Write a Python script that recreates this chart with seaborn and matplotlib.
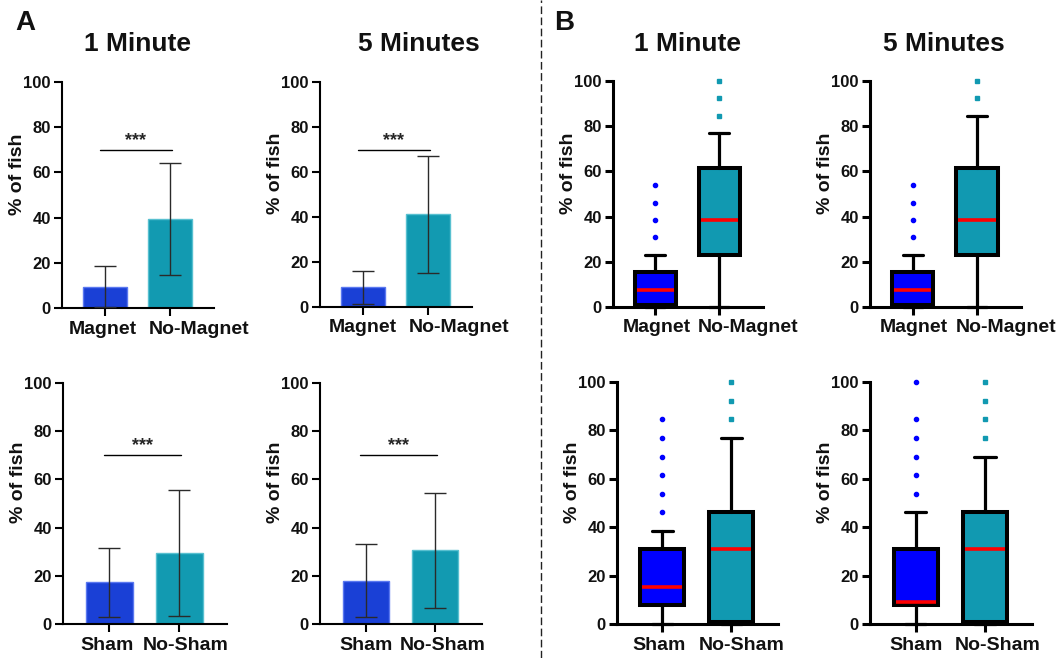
import numpy as np
import pandas as pd
import seaborn as sns
import matplotlib.pyplot as plt
from matplotlib.lines import Line2D
from matplotlib.transforms import ScaledTranslation

sns.set_style("ticks")
plt.rcParams['font.family'] = ['Liberation Sans', 'DejaVu Sans']
plt.rcParams['font.weight'] = 'bold'
plt.rcParams['axes.labelweight'] = 'bold'

# ---------------- data ----------------
magnet_labels = ["Magnet", "No-Magnet"]
sham_labels = ["Sham", "No-Sham"]
panel_titles = ["1 Minute", "5 Minutes"]

# Panel A: mean and SD (% of fish)
mean_mag_1 = [9.5, 39.5]
sd_mag_1 = [9.0, 24.8]
mean_mag_5 = [8.7, 41.3]
sd_mag_5 = [7.2, 26.0]
mean_sham_1 = [17.3, 29.5]
sd_sham_1 = [14.3, 26.3]
mean_sham_5 = [18.0, 30.5]
sd_sham_5 = [15.0, 24.0]
sig_level = 70
sig_text = "***"

# Panel B: box stats [whislo, q1, median, q3, whishi] and outliers
box_mag1_a = [0, 0.8, 7.7, 15.4, 23.1]
out_mag1_a = [30.8, 38.5, 46.2, 53.8]
box_mag1_b = [0, 23.1, 38.5, 61.5, 76.9]
out_mag1_b = [84.6, 92.3, 100]
box_mag5_a = [0, 0.8, 7.7, 15.4, 23.1]
out_mag5_a = [30.8, 38.5, 46.2, 53.8]
box_mag5_b = [0, 23.1, 38.5, 61.5, 84.6]
out_mag5_b = [92.3, 100]
box_sham1_a = [0, 7.7, 15.4, 30.8, 38.5]
out_sham1_a = [46.2, 53.8, 61.5, 69.2, 76.9, 84.6]
box_sham1_b = [0, 0.8, 30.8, 46.2, 76.9]
out_sham1_b = [84.6, 92.3, 100]
box_sham5_a = [0, 7.7, 9.0, 30.8, 46.2]
out_sham5_a = [53.8, 61.5, 69.2, 76.9, 84.6, 100]
box_sham5_b = [0, 0.8, 30.8, 46.2, 69.2]
out_sham5_b = [76.9, 84.6, 92.3, 100]

bar_colors = ["#1A40D6", "#129AB1"]
bar_edges = ["#5A78F0", "#58C0D0"]
box_colors = ["#0000FF", "#1199B1"]

W, H = 1063, 658
fig = plt.figure(figsize=(W / 100, H / 100), dpi=100)


def add_ax(l, r, t, b):
    ax = fig.add_axes([l / W, 1 - b / H, (r - l) / W, (b - t) / H])
    ax._px = (r - l, b - t)
    return ax


XLIM = (-0.66, 1.68)


def style_axis(ax, spine_w, tick_fs, xtick_fs, label_dx):
    sns.despine(ax=ax)
    ax.set_ylim(0, 100)
    ax.set_xlim(*XLIM)
    ax.set_yticks([0, 20, 40, 60, 80, 100])
    for s in ["left", "bottom"]:
        ax.spines[s].set_linewidth(spine_w)
        ax.spines[s].set_color("black")
    ax.tick_params(axis="both", length=6, width=spine_w, color="black", pad=2)
    ax.tick_params(axis="y", labelsize=tick_fs)
    ax.tick_params(axis="x", labelsize=xtick_fs, pad=3)
    for lab in ax.get_yticklabels() + ax.get_xticklabels():
        lab.set_fontweight("bold")
        lab.set_color("#111111")
    # shift x tick labels as in the reference
    for lab, dx in zip(ax.get_xticklabels(), label_dx):
        lab.set_transform(lab.get_transform() + ScaledTranslation(dx / 100, 0, fig.dpi_scale_trans))
    ax.set_ylabel("% of fish", fontsize=14, fontweight="bold", color="#111111")
    wpx, hpx = ax._px
    ax.yaxis.set_label_coords(-36 / wpx, 0.5 + 21 / hpx)
    ax.set_xlabel("")
    ax.set_facecolor("none")


def bar_panel(ax, labels, means, sds, label_dx):
    df = pd.DataFrame({"group": labels, "value": means})
    sns.barplot(data=df, x="group", y="value", hue="group", palette=bar_colors,
                saturation=1, errorbar=None, width=0.67, legend=False, ax=ax,
                linewidth=1, zorder=2)
    for p, ec in zip(ax.patches, bar_edges):
        p.set_edgecolor(ec)
    ax.errorbar(x=np.arange(len(means)), y=means, yerr=sds, fmt="none",
                ecolor="#2a2a2a", elinewidth=1.0, capsize=8, capthick=1.0,
                zorder=3, clip_on=False)
    ax.plot([-0.08, 1.03], [sig_level, sig_level], color="black", lw=1.0)
    ax.text(0.47, sig_level + 0.3, sig_text, ha="center", va="bottom",
            fontsize=13, fontweight="bold")
    style_axis(ax, 1.5, 12, 14, label_dx)


def box_panel(ax, labels, boxes, outs, label_dx):
    markers = ["o", "s"]
    for i, (st, fl) in enumerate(zip(boxes, outs)):
        stats = [dict(whislo=st[0], q1=st[1], med=st[2], q3=st[3], whishi=st[4],
                      fliers=fl, label=labels[i])]
        art = ax.bxp(stats, positions=[i], widths=0.64, capwidths=0.31,
                     patch_artist=True, showfliers=True,
                     boxprops=dict(facecolor=box_colors[i], edgecolor="black", linewidth=2.9),
                     whiskerprops=dict(color="black", linewidth=2.3),
                     capprops=dict(color="black", linewidth=2.3),
                     medianprops=dict(color="#FF0000", linewidth=2.6, solid_capstyle="butt"),
                     flierprops=dict(marker=markers[i], markerfacecolor=box_colors[i],
                                     markeredgecolor=box_colors[i], markersize=3.0,
                                     linestyle="none"))
        for m in art["medians"]:
            m.set_xdata([i - 0.29, i + 0.29])
        for k in art:
            for a in art[k]:
                a.set_clip_on(False)
    ax.set_xticks([0, 1])
    ax.set_xticklabels(labels)
    style_axis(ax, 2.2, 12, 14, label_dx)


# Panel A
ax = add_ax(62, 214, 82, 308)
bar_panel(ax, magnet_labels, mean_mag_1, sd_mag_1, (-2, 29))
ax = add_ax(320, 472, 82, 307)
bar_panel(ax, magnet_labels, mean_mag_5, sd_mag_5, (0, 31))
ax = add_ax(63, 227, 383, 624)
bar_panel(ax, sham_labels, mean_sham_1, sd_sham_1, (-2, 6))
ax = add_ax(320, 482, 383, 624)
bar_panel(ax, sham_labels, mean_sham_5, sd_sham_5, (0, 8))

# Panel B
ax = add_ax(613, 763, 81, 307)
box_panel(ax, magnet_labels, [box_mag1_a, box_mag1_b], [out_mag1_a, out_mag1_b], (2, 29))
ax = add_ax(870, 1021, 81, 307)
box_panel(ax, magnet_labels, [box_mag5_a, box_mag5_b], [out_mag5_a, out_mag5_b], (1, 29))
ax = add_ax(617, 778, 382, 624)
box_panel(ax, sham_labels, [box_sham1_a, box_sham1_b], [out_sham1_a, out_sham1_b], (-3, 10))
ax = add_ax(870, 1032, 382, 624)
box_panel(ax, sham_labels, [box_sham5_a, box_sham5_b], [out_sham5_a, out_sham5_b], (0, 13))

# Titles and panel letters
title_pos = [(137, panel_titles[0]), (419, panel_titles[1]),
             (687, panel_titles[0]), (944, panel_titles[1])]
for x, t in title_pos:
    fig.text(x / W, 1 - 44 / H, t, ha="center", va="center", fontsize=19,
             fontweight="bold", color="#111111")
fig.text(25 / W, 1 - 23 / H, "A", ha="center", va="center", fontsize=20,
         fontweight="bold", color="#111111")
fig.text(564 / W, 1 - 23 / H, "B", ha="center", va="center", fontsize=20,
         fontweight="bold", color="#111111")

fig.add_artist(Line2D([541 / W, 541 / W], [0, 1], transform=fig.transFigure,
                      color="#222222", lw=1.0, ls=(0, (5.5, 2.5))))

fig.savefig("out.png", dpi=100)
